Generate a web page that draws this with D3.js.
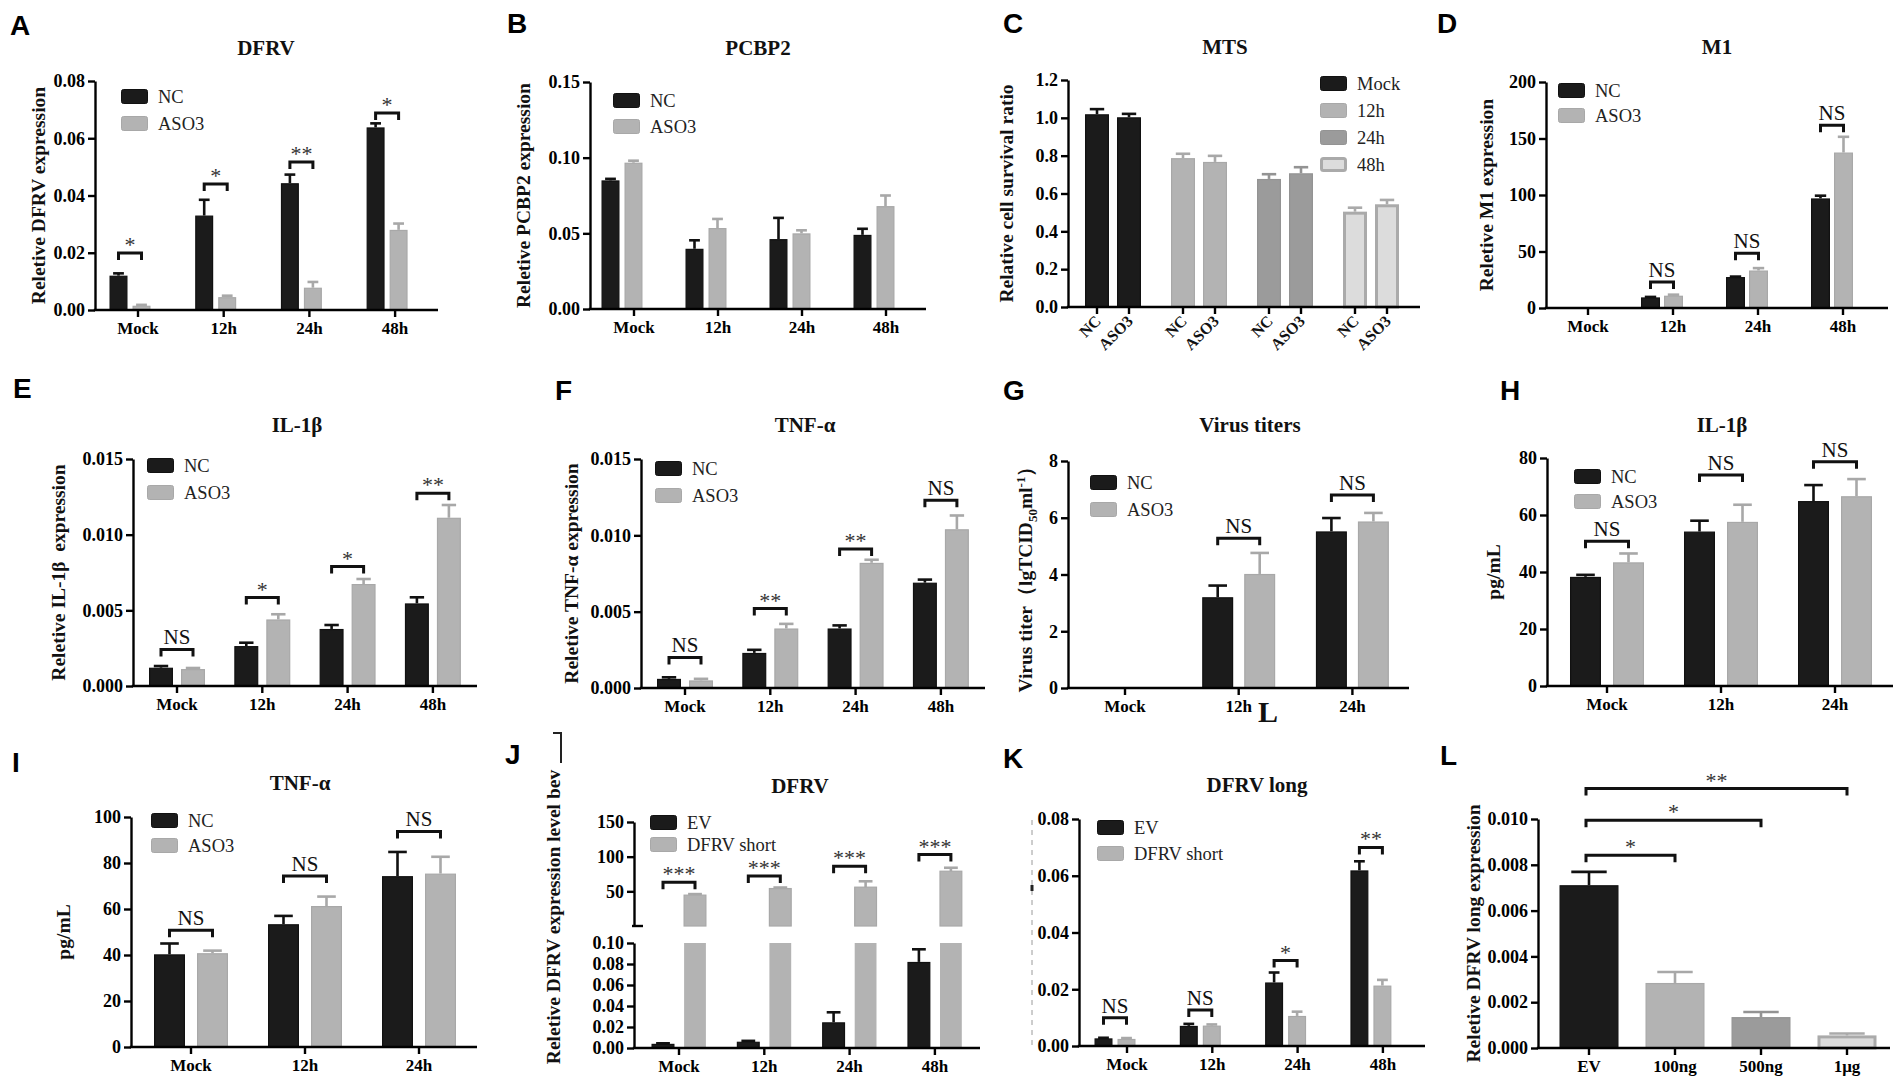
<!DOCTYPE html>
<html><head><meta charset="utf-8">
<script src="https://cdn.jsdelivr.net/npm/d3@7"></script>
<style>body{margin:0;background:#fff}text{white-space:pre}</style>
</head><body>
<script>
// ---------------- DATA ----------------
const timeCats4 = ["Mock","12h","24h","48h"];
const timeCats3 = ["Mock","12h","24h"];
const seriesNames = ["NC","ASO3"];
const seriesNamesEV = ["EV","DFRV short"];

// A  DFRV
const A_NC = [0.0120, 0.0330, 0.0443, 0.0638];
const A_NC_err = [0.0128, 0.0385, 0.0473, 0.0652];
const A_ASO3 = [0.0015, 0.0045, 0.0078, 0.0280];
const A_ASO3_err = [0.0018, 0.0050, 0.0098, 0.0302];
const A_sig = ["*","*","**","*"];
const A_sigY = [0.0199, 0.0440, 0.0517, 0.0688];
const A_ticks = [0, 0.02, 0.04, 0.06, 0.08];

// B  PCBP2
const B_NC = [0.0850, 0.0398, 0.0462, 0.0490];
const B_NC_err = [0.0860, 0.0454, 0.0602, 0.0530];
const B_ASO3 = [0.0967, 0.0535, 0.0500, 0.0680];
const B_ASO3_err = [0.0980, 0.0595, 0.0520, 0.0750];
const B_ticks = [0, 0.05, 0.10, 0.15];

// C  MTS
const C_groups = ["Mock","12h","24h","48h"];
const C_NC = [1.019, 0.787, 0.677, 0.504];
const C_NC_err = [1.046, 0.810, 0.702, 0.525];
const C_ASO3 = [1.003, 0.767, 0.707, 0.543];
const C_ASO3_err = [1.021, 0.799, 0.739, 0.566];
const C_ticks = [0, 0.2, 0.4, 0.6, 0.8, 1.0, 1.2];

// D  M1
const D_NC = [0, 9.4, 27.4, 97.0];
const D_NC_err = [0, 9.8, 27.8, 99.4];
const D_ASO3 = [0, 10.9, 33.2, 137.6];
const D_ASO3_err = [0, 11.8, 35.3, 151.5];
const D_sig = [null,"NS","NS","NS"];
const D_sigY = [null, 23, 48.5, 161.8];
const D_ticks = [0, 50, 100, 150, 200];

// E  IL-1β (relative)
const E_NC = [0.00121, 0.00264, 0.00377, 0.00546];
const E_NC_err = [0.00132, 0.00286, 0.00403, 0.00586];
const E_ASO3 = [0.00112, 0.00440, 0.00674, 0.01112];
const E_ASO3_err = [0.00119, 0.00474, 0.00707, 0.01196];
const E_sig = ["NS","*","*","**"];
const E_sigY = [0.00242, 0.00584, 0.00789, 0.01273];
const E_ticks = [0, 0.005, 0.010, 0.015];

// F  TNF-α (relative)
const F_NC = [0.0006, 0.0023, 0.0039, 0.0069];
const F_NC_err = [0.0007, 0.0025, 0.0041, 0.0071];
const F_ASO3 = [0.0005, 0.0039, 0.0082, 0.0104];
const F_ASO3_err = [0.0006, 0.0042, 0.0084, 0.0113];
const F_sig = ["NS","**","**","NS"];
const F_sigY = [0.0020, 0.0052, 0.0091, 0.0123];
const F_ticks = [0, 0.005, 0.010, 0.015];

// G  Virus titers
const G_NC = [0, 3.20, 5.52];
const G_NC_err = [0, 3.61, 5.99];
const G_ASO3 = [0, 4.02, 5.87];
const G_ASO3_err = [0, 4.76, 6.17];
const G_sig = [null,"NS","NS"];
const G_sigY = [null, 5.28, 6.80];
const G_ticks = [0, 2, 4, 6, 8];

// H  IL-1β pg/mL
const H_NC = [38.3, 54.2, 64.9];
const H_NC_err = [39.0, 58.0, 70.5];
const H_ASO3 = [43.4, 57.6, 66.6];
const H_ASO3_err = [46.5, 63.6, 72.6];
const H_sig = ["NS","NS","NS"];
const H_sigY = [50.8, 74.0, 78.7];
const H_ticks = [0, 20, 40, 60, 80];

// I  TNF-α pg/mL
const I_NC = [40.3, 53.4, 74.3];
const I_NC_err = [45.0, 57.0, 84.8];
const I_ASO3 = [40.8, 61.3, 75.4];
const I_ASO3_err = [41.9, 65.4, 82.7];
const I_sig = ["NS","NS","NS"];
const I_sigY = [50.8, 74.3, 93.7];
const I_ticks = [0, 20, 40, 60, 80, 100];

// J  DFRV (broken axis)
const J_EV = [0.0040, 0.0060, 0.0245, 0.0820];
const J_EV_err = [0.0045, 0.0068, 0.0340, 0.0940];
const J_short = [44.5, 54.0, 56.0, 79.0];
const J_short_err = [46.0, 55.5, 64.5, 84.0];
const J_sig = ["***","***","***","***"];
const J_sigY = [63, 72, 86, 103];
const J_ticksLow = [0, 0.02, 0.04, 0.06, 0.08, 0.10];
const J_ticksHigh = [50, 100, 150];

// K  DFRV long
const K_EV = [0.0027, 0.0071, 0.0224, 0.0619];
const K_EV_err = [0.0029, 0.0078, 0.0259, 0.0651];
const K_short = [0.0025, 0.0072, 0.0106, 0.0213];
const K_short_err = [0.0028, 0.0076, 0.0121, 0.0233];
const K_sig = ["NS","NS","*","**"];
const K_sigY = [0.0100, 0.0127, 0.0301, 0.0700];
const K_ticks = [0, 0.02, 0.04, 0.06, 0.08];

// L  DFRV long dose
const L_cats = ["EV","100ng","500ng","1μg"];
const L_vals = [0.00711, 0.00284, 0.00135, 0.00055];
const L_err = [0.00769, 0.00332, 0.00157, 0.00063];
const L_pairTo = [1, 2, 3];
const L_pairSig = ["*","*","**"];
const L_pairY = [0.00842, 0.00995, 0.01133];
const L_ticks = [0, 0.002, 0.004, 0.006, 0.008, 0.010];

// ---------------- STYLE ----------------
const SERIF = "'Liberation Serif','Times New Roman',serif";
const SANS = "'Liberation Sans',Arial,sans-serif";
const BLACK = {fill:"#1b1b1b", stroke:"#111"};
const GRAY = {fill:"#b3b3b3", stroke:"#a8a8a8"};
const MID = {fill:"#9b9b9b", stroke:"#939393"};
const LIGHT = {fill:"#dcdcdc", stroke:"#aaaaaa", sw:3};
const TIME_COL = [BLACK, GRAY, MID, LIGHT];

const svg = d3.select("body").append("svg").attr("width",1901).attr("height",1085)
  .style("background","#fff");

// ---------------- HELPERS ----------------
function yAxis(g, y, x0, ticks, fmt){
  const a = g.append("g").attr("transform",`translate(${x0},0)`)
    .call(d3.axisLeft(y).tickValues(ticks).tickFormat(fmt).tickSizeInner(7).tickSizeOuter(0).tickPadding(3));
  a.selectAll("path,line").attr("stroke","#000").attr("stroke-width",2.4);
  a.selectAll("text").attr("fill","#000").style("font-family",SERIF).style("font-weight","bold").style("font-size","18px");
  return a;
}
function xAxis(g, x, yb, x0, x1){
  const a = g.append("g").attr("transform",`translate(0,${yb})`)
    .call(d3.axisBottom(x).tickSizeInner(7).tickSizeOuter(0).tickPadding(5));
  a.select(".domain").remove();
  a.append("line").attr("x1",x0-1.2).attr("x2",x1).attr("stroke","#000").attr("stroke-width",2.4);
  a.selectAll(".tick line").attr("stroke","#000").attr("stroke-width",2.4);
  a.selectAll("text").attr("fill","#000").style("font-family",SERIF).style("font-weight","bold").style("font-size","17px");
  return a;
}
function bandFor(cats, first, step){
  return d3.scaleBand().domain(cats).range([first-step/2, first-step/2+cats.length*step]);
}
function drawSeries(g, x, y, cats, series, barW, gap, offset){
  const ns = series.length;
  series.forEach((s,i)=>{
    const dx = x.bandwidth()/2 + offset + (i-(ns-1)/2)*(barW+gap);
    const rows = cats.map((c,j)=>{
      const col = s.cols ? s.cols[j] : s.col;
      return {c, v:s.vals[j], e:s.errs[j], col};
    }).filter(d=>d.v>0);
    const eg = g.append("g");
    eg.selectAll("line.v").data(rows).join("line").attr("class","v")
      .attr("x1",d=>x(d.c)+dx).attr("x2",d=>x(d.c)+dx)
      .attr("y1",d=>y(d.v)).attr("y2",d=>y(d.e))
      .attr("stroke",d=>d.col.stroke).attr("stroke-width",2.6);
    eg.selectAll("line.c").data(rows).join("line").attr("class","c")
      .attr("x1",d=>x(d.c)+dx-barW*0.3).attr("x2",d=>x(d.c)+dx+barW*0.3)
      .attr("y1",d=>y(d.e)).attr("y2",d=>y(d.e))
      .attr("stroke",d=>d.col.stroke).attr("stroke-width",2.6);
    g.append("g").selectAll("rect").data(rows).join("rect")
      .attr("x",d=>x(d.c)+dx-barW/2+(d.col.sw||1.2)/2)
      .attr("width",d=>barW-(d.col.sw||1.2))
      .attr("y",d=>y(d.v)+(d.col.sw||1.2)/2)
      .attr("height",d=>Math.max(0,y(0)-y(d.v)-(d.col.sw||1.2)/2))
      .attr("fill",d=>d.col.fill).attr("stroke",d=>d.col.stroke).attr("stroke-width",d=>d.col.sw||1.2);
  });
}
function bracket(g, xa, xb, yy, txt){
  g.append("path").attr("d",`M${xa},${yy+7}V${yy}H${xb}V${yy+7}`)
    .attr("fill","none").attr("stroke","#111").attr("stroke-width",3);
  const star = txt.indexOf("*")>=0;
  g.append("text").attr("x",(xa+xb)/2).attr("y",star? yy-1 : yy-5).attr("text-anchor","middle")
    .style("font-family",SERIF).style("font-size",star?"22px":"21px").attr("fill",star?"#333":"#111")
    .text(txt);
}
function groupBrackets(g, x, y, cats, sig, sigY, barW, gap, offset){
  cats.forEach((c,j)=>{
    if(!sig[j]) return;
    const cx = x(c)+x.bandwidth()/2+offset;
    const h = (barW+gap)/2;
    bracket(g, cx-h, cx+h, y(sigY[j]), sig[j]);
  });
}
function legend(g, x, y0, rowH, items){
  items.forEach((it,i)=>{
    const yy = y0 + i*rowH;
    g.append("rect").attr("x",x+(it.col.sw?1.5:0.5)).attr("y",yy+(it.col.sw?1.5:0.5))
      .attr("width",27-(it.col.sw?3:1)).attr("height",15-(it.col.sw?3:1)).attr("rx",2)
      .attr("fill",it.col.fill).attr("stroke",it.col.stroke).attr("stroke-width",it.col.sw||1);
    g.append("text").attr("x",x+37).attr("y",yy+14).style("font-family",SERIF).style("font-size","18.5px")
      .attr("fill","#222").text(it.label);
  });
}
function yLabel(g, x, yc, txt){
  return g.append("text").attr("transform",`translate(${x},${yc}) rotate(-90)`).attr("text-anchor","middle")
    .style("font-family",SERIF).style("font-weight","bold").style("font-size","19.5px").attr("fill","#111").text(txt);
}
function title(g, x, y, txt){
  g.append("text").attr("x",x).attr("y",y).attr("text-anchor","middle")
    .style("font-family",SERIF).style("font-weight","bold").style("font-size","21px").attr("fill","#111").text(txt);
}
function letter(x, y, txt){
  svg.append("text").attr("x",x).attr("y",y).style("font-family",SANS).style("font-weight","bold")
    .style("font-size","28px").attr("fill","#000").text(txt);
}

// generic grouped panel
function groupedPanel(p){
  const g = svg.append("g");
  const y = d3.scaleLinear().domain([p.ticks[0], p.ticks[p.ticks.length-1]]).range([p.yBot, p.yTop]);
  const x = bandFor(p.cats, p.first, p.step);
  drawSeries(g, x, y, p.cats, p.series, p.barW, p.gap, p.offset);
  yAxis(g, y, p.x0, p.ticks, p.fmt);
  xAxis(g, x, p.yBot, p.x0, p.x1);
  if(p.sig) groupBrackets(g, x, y, p.cats, p.sig, p.sigY, p.barW, p.gap, p.offset);
  legend(g, p.legX, p.legY, p.legRow||26, p.series.map(s=>({label:s.name, col:s.col})));
  if(p.title) title(g, p.titleX, p.titleY, p.title);
  if(p.ylab) yLabel(g, p.ylabX, (p.yTop+p.yBot)/2, p.ylab);
  return {g,x,y};
}

// ---------------- PANELS ----------------
// A
letter(10, 35, "A");
groupedPanel({x0:95, x1:438, yTop:81, yBot:310, ticks:A_ticks, fmt:d3.format(".2f"),
  cats:timeCats4, first:138, step:85.7, barW:18, gap:5, offset:-8,
  series:[{name:seriesNames[0], vals:A_NC, errs:A_NC_err, col:BLACK},{name:seriesNames[1], vals:A_ASO3, errs:A_ASO3_err, col:GRAY}],
  sig:A_sig, sigY:A_sigY, legX:121, legY:89, legRow:27, title:"DFRV", titleX:266, titleY:55,
  ylab:"Reletive DFRV expression", ylabX:45});

// B
letter(507, 33, "B");
groupedPanel({x0:590, x1:926, yTop:82, yBot:309, ticks:B_ticks, fmt:d3.format(".2f"),
  cats:timeCats4, first:634, step:84, barW:18, gap:5, offset:-12,
  series:[{name:seriesNames[0], vals:B_NC, errs:B_NC_err, col:BLACK},{name:seriesNames[1], vals:B_ASO3, errs:B_ASO3_err, col:GRAY}],
  legX:613, legY:93, legRow:26, title:"PCBP2", titleX:758, titleY:55,
  ylab:"Reletive PCBP2 expression", ylabX:530});

// C
letter(1003, 33, "C");
(function(){
  const g = svg.append("g");
  const x0 = 1068, x1 = 1420, yTop = 80, yBot = 307, barW = 24, gap = 8;
  const y = d3.scaleLinear().domain([0,1.2]).range([yBot,yTop]);
  const x = bandFor(C_groups, 1113, 86);
  const series = [{vals:C_NC, errs:C_NC_err, cols:TIME_COL},{vals:C_ASO3, errs:C_ASO3_err, cols:TIME_COL}];
  drawSeries(g, x, y, C_groups, series, barW, gap, 0);
  yAxis(g, y, x0, C_ticks, d3.format(".1f"));
  g.append("line").attr("x1",x0-1.2).attr("x2",x1).attr("y1",yBot).attr("y2",yBot).attr("stroke","#000").attr("stroke-width",2.4);
  const ticks = [];
  C_groups.forEach(c=>seriesNames.forEach((s,i)=>ticks.push({c,s,cx:x(c)+x.bandwidth()/2+(i-0.5)*(barW+gap)})));
  g.selectAll("line.xt").data(ticks).join("line").attr("class","xt")
    .attr("x1",d=>d.cx).attr("x2",d=>d.cx).attr("y1",yBot).attr("y2",yBot+7).attr("stroke","#000").attr("stroke-width",2.4);
  g.selectAll("text.xl").data(ticks).join("text").attr("class","xl")
    .attr("transform",d=>`translate(${d.cx+5},${yBot+15}) rotate(-45)`).attr("text-anchor","end")
    .style("font-family",SERIF).style("font-weight","bold").style("font-size","16px").attr("fill","#111").text(d=>d.s);
  legend(g, 1320, 76, 27, C_groups.map((c,i)=>({label:c, col:TIME_COL[i]})));
  title(g, 1225, 54, "MTS");
  yLabel(g, 1013, (yTop+yBot)/2, "Relative cell survival ratio");
})();

// D
letter(1437, 33, "D");
groupedPanel({x0:1546, x1:1888, yTop:82, yBot:308, ticks:D_ticks, fmt:d3.format("d"),
  cats:timeCats4, first:1588, step:85, barW:19, gap:4, offset:-11,
  series:[{name:seriesNames[0], vals:D_NC, errs:D_NC_err, col:BLACK},{name:seriesNames[1], vals:D_ASO3, errs:D_ASO3_err, col:GRAY}],
  sig:D_sig, sigY:D_sigY, legX:1558, legY:83, legRow:25, title:"M1", titleX:1717, titleY:54,
  ylab:"Reletive M1 expression", ylabX:1493});

// E
letter(13, 398, "E");
groupedPanel({x0:133, x1:477, yTop:459, yBot:686, ticks:E_ticks, fmt:d3.format(".3f"),
  cats:timeCats4, first:177, step:85.3, barW:24, gap:8, offset:0,
  series:[{name:seriesNames[0], vals:E_NC, errs:E_NC_err, col:BLACK},{name:seriesNames[1], vals:E_ASO3, errs:E_ASO3_err, col:GRAY}],
  sig:E_sig, sigY:E_sigY, legX:147, legY:458, legRow:27, title:"IL-1β", titleX:297, titleY:432,
  ylab:"Reletive IL-1β  expression", ylabX:65});

// F
letter(555, 400, "F");
groupedPanel({x0:641, x1:985, yTop:459, yBot:688, ticks:F_ticks, fmt:d3.format(".3f"),
  cats:timeCats4, first:685, step:85.3, barW:24, gap:8, offset:0,
  series:[{name:seriesNames[0], vals:F_NC, errs:F_NC_err, col:BLACK},{name:seriesNames[1], vals:F_ASO3, errs:F_ASO3_err, col:GRAY}],
  sig:F_sig, sigY:F_sigY, legX:655, legY:461, legRow:27, title:"TNF-α", titleX:805, titleY:432,
  ylab:"Reletive TNF-α expression", ylabX:578});

// G
letter(1003, 400, "G");
(function(){
  const r = groupedPanel({x0:1068, x1:1409, yTop:461, yBot:688, ticks:G_ticks, fmt:d3.format("d"),
    cats:timeCats3, first:1125, step:113.7, barW:31, gap:11, offset:0,
    series:[{name:seriesNames[0], vals:G_NC, errs:G_NC_err, col:BLACK},{name:seriesNames[1], vals:G_ASO3, errs:G_ASO3_err, col:GRAY}],
    sig:G_sig, sigY:G_sigY, legX:1090, legY:475, legRow:27, title:"Virus titers", titleX:1250, titleY:432});
  const t = yLabel(r.g, 1032, (461+688)/2, "");
  t.append("tspan").text("Virus titer（lgTCID");
  t.append("tspan").attr("dy",5).style("font-size","13px").text("50");
  t.append("tspan").attr("dy",-5).text("ml");
  t.append("tspan").attr("dy",-7).style("font-size","13px").text("-1");
  t.append("tspan").attr("dy",7).text("）");
  r.g.append("text").attr("x",1258).attr("y",722).style("font-family",SERIF).style("font-weight","bold")
    .style("font-size","30px").attr("fill","#111").text("L");
})();

// H
letter(1500, 400, "H");
groupedPanel({x0:1547, x1:1893, yTop:458, yBot:686, ticks:H_ticks, fmt:d3.format("d"),
  cats:timeCats3, first:1607, step:114, barW:31, gap:12, offset:0,
  series:[{name:seriesNames[0], vals:H_NC, errs:H_NC_err, col:BLACK},{name:seriesNames[1], vals:H_ASO3, errs:H_ASO3_err, col:GRAY}],
  sig:H_sig, sigY:H_sigY, legX:1574, legY:469, legRow:25, title:"IL-1β", titleX:1722, titleY:432,
  ylab:"pg/mL", ylabX:1500});

// I
letter(12, 772, "I");
groupedPanel({x0:131, x1:477, yTop:817, yBot:1047, ticks:I_ticks, fmt:d3.format("d"),
  cats:timeCats3, first:191, step:114, barW:31, gap:12, offset:0,
  series:[{name:seriesNames[0], vals:I_NC, errs:I_NC_err, col:BLACK},{name:seriesNames[1], vals:I_ASO3, errs:I_ASO3_err, col:GRAY}],
  sig:I_sig, sigY:I_sigY, legX:151, legY:813, legRow:25, title:"TNF-α", titleX:300, titleY:790,
  ylab:"pg/mL", ylabX:70});

// J
letter(505, 764, "J");
(function(){
  const g = svg.append("g");
  const x0 = 634, x1 = 980, barW = 23, gap = 9;
  const yB = d3.scaleLinear().domain([0,0.10]).range([1048,943]).clamp(true);
  const yT = d3.scaleLinear().domain([0,150]).range([926,822]);
  const x = bandFor(timeCats4, 679, 85.3);
  const cx = (c,i)=>x(c)+x.bandwidth()/2+(i-0.5)*(barW+gap);
  drawSeries(g, x, yB, timeCats4, [{vals:J_EV, errs:J_EV_err, col:BLACK},{vals:[0,0,0,0], errs:[0,0,0,0], col:GRAY}], barW, gap, 0);
  const rows = timeCats4.map((c,j)=>({c, v:J_short[j], e:J_short_err[j]}));
  g.selectAll("rect.sl").data(rows).join("rect").attr("class","sl")
    .attr("x",d=>cx(d.c,1)-barW/2+0.6).attr("width",barW-1.2)
    .attr("y",d=>yB(d.v)).attr("height",d=>yB(0)-yB(d.v)).attr("fill",GRAY.fill);
  g.selectAll("line.se").data(rows).join("line").attr("class","se")
    .attr("x1",d=>cx(d.c,1)).attr("x2",d=>cx(d.c,1)).attr("y1",d=>yT(d.v)).attr("y2",d=>yT(d.e))
    .attr("stroke",GRAY.stroke).attr("stroke-width",2.6);
  g.selectAll("line.sc").data(rows).join("line").attr("class","sc")
    .attr("x1",d=>cx(d.c,1)-barW*0.3).attr("x2",d=>cx(d.c,1)+barW*0.3).attr("y1",d=>yT(d.e)).attr("y2",d=>yT(d.e))
    .attr("stroke",GRAY.stroke).attr("stroke-width",2.6);
  g.selectAll("rect.su").data(rows).join("rect").attr("class","su")
    .attr("x",d=>cx(d.c,1)-barW/2+0.6).attr("width",barW-1.2)
    .attr("y",d=>yT(d.v)).attr("height",d=>yT(0)-yT(d.v)).attr("fill",GRAY.fill).attr("stroke",GRAY.stroke).attr("stroke-width",1.2);
  yAxis(g, yB, x0, J_ticksLow, d3.format(".2f"));
  yAxis(g, yT, x0, J_ticksHigh, d3.format("d"));
  g.append("line").attr("x1",x0-2).attr("x2",x0+9).attr("y1",yT(0)).attr("y2",yT(0)).attr("stroke","#000").attr("stroke-width",2.4);
  xAxis(g, x, 1048, x0, x1);
  timeCats4.forEach((c,j)=>bracket(g, cx(c,0), cx(c,1), yT(J_sigY[j]), J_sig[j]));
  legend(g, 650, 815, 22, seriesNamesEV.map((s,i)=>({label:s, col:[BLACK,GRAY][i]})));
  title(g, 800, 793, "DFRV");
  yLabel(g, 560, 917, "Reletive DFRV expression level bev");
  g.append("path").attr("d","M553,733H561V763").attr("fill","none").attr("stroke","#222").attr("stroke-width",2);
})();

// K
letter(1003, 768, "K");
(function(){
  const r = groupedPanel({x0:1079, x1:1425, yTop:819, yBot:1046, ticks:K_ticks, fmt:d3.format(".2f"),
    cats:timeCats4, first:1127, step:85.3, barW:18, gap:5, offset:-12,
    series:[{name:seriesNamesEV[0], vals:K_EV, errs:K_EV_err, col:BLACK},{name:seriesNamesEV[1], vals:K_short, errs:K_short_err, col:GRAY}],
    sig:K_sig, sigY:K_sigY, legX:1097, legY:820, legRow:26, title:"DFRV long", titleX:1257, titleY:792});
  r.g.append("line").attr("x1",1032).attr("x2",1032).attr("y1",820).attr("y2",1045)
    .attr("stroke","#9a9a9a").attr("stroke-width",1).attr("stroke-dasharray","5,5");
  r.g.append("line").attr("x1",1032).attr("x2",1032).attr("y1",885).attr("y2",891)
    .attr("stroke","#222").attr("stroke-width",3);
})();

// L
letter(1440, 765, "L");
(function(){
  const g = svg.append("g");
  const x0 = 1538, x1 = 1890, yTop = 819, yBot = 1048, barW = 59;
  const y = d3.scaleLinear().domain([0,0.010]).range([yBot,yTop]);
  const x = bandFor(L_cats, 1589, 86);
  drawSeries(g, x, y, L_cats, [{vals:L_vals, errs:L_err, cols:TIME_COL}], barW, 0, 0);
  yAxis(g, y, x0, L_ticks, d3.format(".3f"));
  xAxis(g, x, yBot, x0, x1);
  const c = k=>x(k)+x.bandwidth()/2;
  L_pairTo.forEach((t,i)=>bracket(g, c(L_cats[0])-3, c(L_cats[t]), y(L_pairY[i]), L_pairSig[i]));
  yLabel(g, 1480, (yTop+yBot)/2, "Reletive DFRV long expression");
})();
</script>
</body></html>
